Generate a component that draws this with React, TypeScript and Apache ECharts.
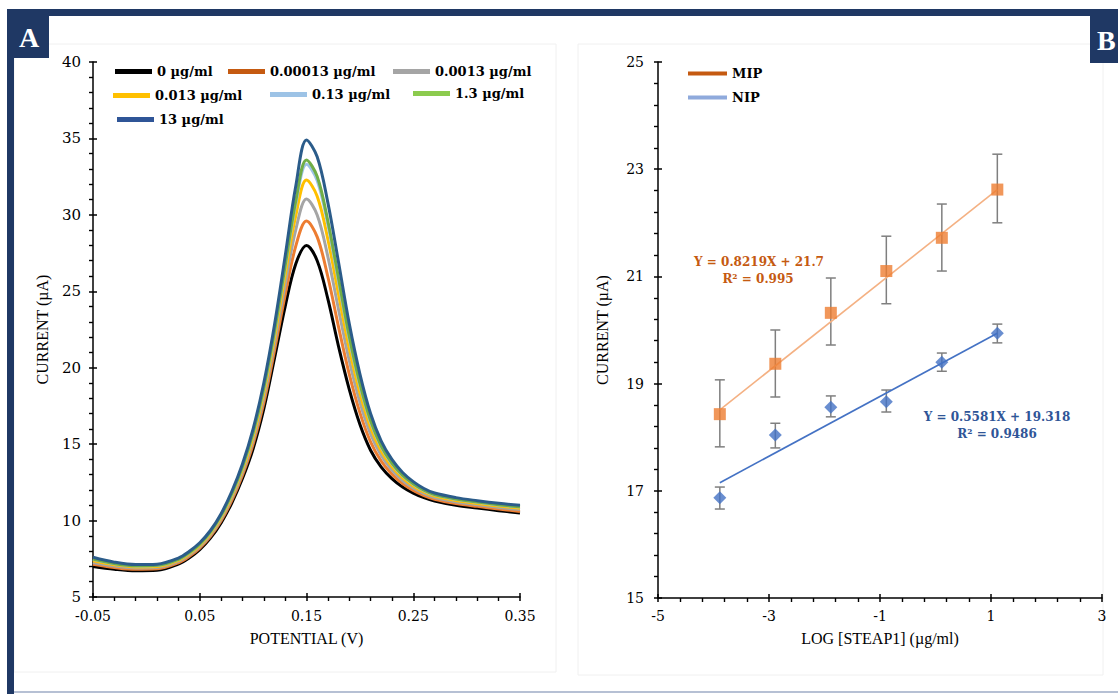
import React, { useEffect, useRef } from "react";
import * as echarts from "echarts";

// ---------- Panel A data ----------
const potentials = [-0.05, -0.03, -0.01, 0.01, 0.03, 0.04, 0.05, 0.06, 0.07, 0.08, 0.09, 0.1, 0.11, 0.12, 0.13, 0.14, 0.15, 0.16, 0.17, 0.18, 0.19, 0.2, 0.21, 0.22, 0.23, 0.24, 0.25, 0.26, 0.27, 0.29, 0.31, 0.33, 0.35];
const concNames = ["0 µg/ml", "0.00013 µg/ml", "0.0013 µg/ml", "0.013 µg/ml", "0.13 µg/ml", "1.3 µg/ml", "13 µg/ml"];
const cur0 = [7.0, 6.82, 6.72, 6.75, 7.15, 7.55, 8.1, 8.85, 9.85, 11.15, 12.75, 14.7, 17.3, 20.6, 24.0, 26.8, 28.0, 27.0, 24.5, 21.4, 18.6, 16.3, 14.6, 13.5, 12.75, 12.2, 11.8, 11.5, 11.28, 11.0, 10.82, 10.65, 10.5];
const cur1 = [7.14, 6.93, 6.81, 6.84, 7.24, 7.65, 8.2, 8.97, 9.99, 11.32, 12.97, 15.0, 17.69, 21.11, 24.76, 27.97, 29.59, 28.56, 25.95, 22.67, 19.59, 17.06, 15.15, 13.89, 13.04, 12.42, 11.97, 11.64, 11.4, 11.12, 10.93, 10.76, 10.6];
const cur2 = [7.26, 7.02, 6.9, 6.93, 7.33, 7.74, 8.3, 9.07, 10.11, 11.48, 13.17, 15.27, 18.05, 21.57, 25.45, 29.04, 31.04, 29.99, 27.27, 23.82, 20.49, 17.75, 15.66, 14.25, 13.3, 12.62, 12.13, 11.76, 11.51, 11.22, 11.03, 10.86, 10.72];
const cur3 = [7.37, 7.11, 6.97, 7.0, 7.4, 7.82, 8.38, 9.16, 10.22, 11.62, 13.34, 15.5, 18.35, 21.96, 26.05, 29.96, 32.28, 31.22, 28.41, 24.81, 21.27, 18.35, 16.09, 14.55, 13.53, 12.79, 12.27, 11.87, 11.6, 11.31, 11.12, 10.95, 10.81];
const cur4 = [7.46, 7.17, 7.03, 7.06, 7.46, 7.88, 8.45, 9.24, 10.31, 11.73, 13.48, 15.7, 18.61, 22.29, 26.54, 30.73, 33.31, 32.24, 29.35, 25.64, 21.91, 18.84, 16.45, 14.81, 13.71, 12.93, 12.38, 11.96, 11.68, 11.39, 11.19, 11.02, 10.89];
const cur5 = [7.49, 7.19, 7.04, 7.07, 7.47, 7.9, 8.46, 9.26, 10.34, 11.76, 13.52, 15.75, 18.68, 22.38, 26.67, 30.93, 33.59, 32.51, 29.6, 25.86, 22.08, 18.97, 16.54, 14.88, 13.76, 12.97, 12.41, 11.99, 11.7, 11.41, 11.21, 11.04, 10.9];
const cur6 = [7.6, 7.28, 7.12, 7.15, 7.55, 7.98, 8.55, 9.35, 10.45, 11.9, 13.7, 16.0, 19.0, 22.8, 27.3, 31.9, 34.9, 33.8, 30.8, 26.9, 22.9, 19.6, 17.0, 15.2, 14.0, 13.15, 12.55, 12.1, 11.8, 11.5, 11.3, 11.13, 11.0];
const currents = [cur0, cur1, cur2, cur3, cur4, cur5, cur6];
const lineColors = ["#000000", "#ED7D31", "#A5A5A5", "#FFC000", "#9DC3E6", "#70AD47", "#2B5C8A"];
const legendColors = ["#000000", "#C55A11", "#A5A5A5", "#FFC000", "#9DC3E6", "#8CCB4E", "#2F5597"];

// ---------- Panel B data ----------
const logConc = [-3.886, -2.886, -1.886, -0.886, 0.114, 1.114];
const mipMean = [18.43, 19.37, 20.32, 21.1, 21.72, 22.62];
const mipLow = [17.82, 18.75, 19.72, 20.49, 21.1, 22.0];
const mipHigh = [19.07, 20.0, 20.97, 21.75, 22.35, 23.28];
const nipMean = [16.87, 18.04, 18.56, 18.66, 19.4, 19.94];
const nipLow = [16.66, 17.8, 18.38, 18.47, 19.23, 19.76];
const nipHigh = [17.07, 18.26, 18.77, 18.88, 19.57, 20.11];
const mipFitX = [-3.886, 1.114];
const mipFitY = [18.51, 22.62];
const nipFitX = [-3.886, 1.114];
const nipFitY = [17.15, 19.94];

const NAVY = "#1F3864";
const SERIF = "'DejaVu Serif', 'Liberation Serif', serif";
const TIMES = "'Liberation Serif', serif";

// legend placement for panel A (icon left, icon centre y)
const legendPos = [
  [115, 73], [228, 73], [393, 73],
  [113, 97], [270, 96], [413, 95],
  [117, 121],
];

export default function App() {
  const ref = useRef<HTMLDivElement>(null);
  useEffect(() => {
    if (!ref.current) return;
    const chart = echarts.init(ref.current, null, { renderer: "svg" });

    const axisLine = { show: true, onZero: false, lineStyle: { color: "#000", width: 1.5 } };
    const axisTick = { show: true, inside: true, length: 4, lineStyle: { color: "#000", width: 1.5 } };
    const minorTick = { show: true, splitNumber: 5, length: -4, lineStyle: { color: "#000", width: 1.4 } };
    const outerTick = { show: true, inside: false, length: 4, lineStyle: { color: "#000", width: 1.5 } };

    const errRender = (params: any, api: any) => {
      const x = api.value(0);
      const lo = api.value(1);
      const hi = api.value(2);
      const pt = api.coord([x, hi]);
      const pb = api.coord([x, lo]);
      const w = 5;
      const style = { stroke: "#7F7F7F", lineWidth: 1.5 };
      return {
        type: "group",
        children: [
          { type: "line", shape: { x1: pt[0], y1: pt[1], x2: pb[0], y2: pb[1] }, style },
          { type: "line", shape: { x1: pt[0] - w, y1: pt[1], x2: pt[0] + w, y2: pt[1] }, style },
          { type: "line", shape: { x1: pb[0] - w, y1: pb[1], x2: pb[0] + w, y2: pb[1] }, style },
        ],
      };
    };

    const legendsA = concNames.map((n, i) => ({
      show: true,
      left: legendPos[i][0],
      top: legendPos[i][1] - 8,
      padding: 0,
      icon: "rect",
      itemWidth: 37,
      itemHeight: 5,
      selectedMode: false,
      textStyle: { fontFamily: SERIF, fontWeight: "bold", fontSize: 13, color: "#000" },
      data: [{ name: n, itemStyle: { color: legendColors[i] } }],
    }));

    const legendB = {
      show: true,
      left: 688,
      top: 67,
      padding: 0,
      orient: "vertical",
      itemGap: 11,
      icon: "rect",
      itemWidth: 39,
      itemHeight: 4,
      selectedMode: false,
      textStyle: { fontFamily: SERIF, fontWeight: "bold", fontSize: 13, color: "#000" },
      data: [
        { name: "MIP", itemStyle: { color: "#C55A11" }, lineStyle: { color: "#C55A11" } },
        { name: "NIP", itemStyle: { color: "#8FAADC" }, lineStyle: { color: "#8FAADC" } },
      ],
    };

    const seriesA = currents.map((c, i) => ({
      name: concNames[i],
      type: "line",
      xAxisIndex: 0,
      yAxisIndex: 0,
      smooth: 0.35,
      showSymbol: false,
      symbol: "none",
      lineStyle: { color: lineColors[i], width: 3 },
      itemStyle: { color: lineColors[i] },
      data: potentials.map((p, k) => [p, c[k]]),
      z: 2 + i,
    }));

    // tick-only twin axes (to make major ticks cross the axis line)
    const twin = (base: any) => ({
      ...base,
      name: "",
      axisLine: { show: false, onZero: false },
      axisTick: outerTick,
      minorTick: { show: false },
      axisLabel: { show: false },
      splitLine: { show: false },
    });

    const xA = {
      type: "value",
      gridIndex: 0,
      position: "bottom",
      min: -0.05,
      max: 0.35,
      interval: 0.1,
      name: "POTENTIAL (V)",
      nameLocation: "middle",
      nameGap: 33,
      nameTextStyle: { fontFamily: TIMES, fontSize: 16, color: "#000" },
      axisLine,
      axisTick,
      minorTick,
      splitLine: { show: false },
      axisLabel: {
        margin: 12,
        fontFamily: SERIF,
        fontSize: 14,
        color: "#000",
        formatter: (v: number) => v.toFixed(2),
      },
    };
    const xB = {
      type: "value",
      gridIndex: 1,
      position: "bottom",
      min: -5,
      max: 3,
      interval: 2,
      name: "LOG [STEAP1] (µg/ml)",
      nameLocation: "middle",
      nameGap: 32,
      nameTextStyle: { fontFamily: TIMES, fontSize: 16, color: "#000" },
      axisLine,
      axisTick,
      minorTick,
      splitLine: { show: false },
      axisLabel: {
        margin: 11,
        fontFamily: SERIF,
        fontSize: 14,
        color: "#000",
        formatter: (v: number) => String(Math.round(v)),
      },
    };
    const yA = {
      type: "value",
      gridIndex: 0,
      position: "left",
      min: 5,
      max: 40,
      interval: 5,
      name: "CURRENT (µA)",
      nameLocation: "middle",
      nameGap: 43,
      nameTextStyle: { fontFamily: TIMES, fontSize: 16, color: "#000" },
      axisLine,
      axisTick,
      minorTick,
      splitLine: { show: false },
      axisLabel: { margin: 12, fontFamily: SERIF, fontSize: 15, color: "#000" },
    };
    const yB = {
      type: "value",
      gridIndex: 1,
      position: "left",
      min: 15,
      max: 25,
      interval: 2,
      name: "CURRENT (µA)",
      nameLocation: "middle",
      nameGap: 48,
      nameTextStyle: { fontFamily: TIMES, fontSize: 16, color: "#000" },
      axisLine,
      axisTick,
      minorTick,
      splitLine: { show: false },
      axisLabel: {
        margin: 14,
        fontFamily: SERIF,
        fontSize: 14,
        color: "#000",
        formatter: (v: number) => String(Math.round(v)),
      },
    };

    const option: any = {
      animation: false,
      backgroundColor: "#ffffff",
      legend: [...legendsA, legendB],
      grid: [
        { left: 93, top: 62, width: 427, height: 535 },
        { left: 658, top: 62, width: 444, height: 536 },
      ],
      xAxis: [xA, xB, twin(xA), twin(xB)],
      yAxis: [yA, yB, twin(yA), twin(yB)],
      series: [
        ...seriesA,
        {
          name: "MIP error",
          type: "custom",
          xAxisIndex: 1,
          yAxisIndex: 1,
          renderItem: errRender,
          encode: { x: 0, y: [1, 2] },
          data: logConc.map((x, i) => [x, mipLow[i], mipHigh[i]]),
          z: 3,
        },
        {
          name: "NIP error",
          type: "custom",
          xAxisIndex: 1,
          yAxisIndex: 1,
          renderItem: errRender,
          encode: { x: 0, y: [1, 2] },
          data: logConc.map((x, i) => [x, nipLow[i], nipHigh[i]]),
          z: 3,
        },
        {
          name: "MIP",
          type: "line",
          xAxisIndex: 1,
          yAxisIndex: 1,
          symbol: "none",
          lineStyle: { color: "#F4B183", width: 1.6 },
          itemStyle: { color: "#C55A11" },
          data: mipFitX.map((x, i) => [x, mipFitY[i]]),
          z: 4,
        },
        {
          name: "NIP",
          type: "line",
          xAxisIndex: 1,
          yAxisIndex: 1,
          symbol: "none",
          lineStyle: { color: "#4472C4", width: 1.6 },
          itemStyle: { color: "#8FAADC" },
          data: nipFitX.map((x, i) => [x, nipFitY[i]]),
          z: 4,
        },
        {
          name: "MIP points",
          type: "scatter",
          xAxisIndex: 1,
          yAxisIndex: 1,
          symbol: "rect",
          symbolSize: 12,
          itemStyle: { color: "#ED7D31" },
          data: logConc.map((x, i) => [x, mipMean[i]]),
          z: 5,
        },
        {
          name: "NIP points",
          type: "scatter",
          xAxisIndex: 1,
          yAxisIndex: 1,
          symbol: "diamond",
          symbolSize: 13,
          itemStyle: { color: "#4472C4" },
          data: logConc.map((x, i) => [x, nipMean[i]]),
          z: 5,
        },
      ],
      graphic: [
        // faint panel boxes
        { type: "rect", shape: { x: 14, y: 44, width: 542, height: 628 }, style: { fill: "none", stroke: "#f0f0f0", lineWidth: 1 }, z: -10 },
        { type: "rect", shape: { x: 578, y: 44, width: 525, height: 631 }, style: { fill: "none", stroke: "#f0f0f0", lineWidth: 1 }, z: -10 },
        // frame
        { type: "rect", shape: { x: 7, y: 9, width: 1111, height: 7 }, style: { fill: NAVY } },
        { type: "rect", shape: { x: 7, y: 9, width: 7, height: 685 }, style: { fill: NAVY } },
        { type: "rect", shape: { x: 14, y: 691, width: 1104, height: 2 }, style: { fill: "#b6c0d4" } },
        { type: "rect", shape: { x: 7, y: 9, width: 42, height: 49 }, style: { fill: NAVY } },
        { type: "rect", shape: { x: 1090, y: 9, width: 28, height: 54 }, style: { fill: NAVY } },
        {
          type: "text",
          x: 29,
          y: 37,
          style: { text: "A", fill: "#fff", font: "bold 28px 'Liberation Serif', serif", textAlign: "center", textVerticalAlign: "middle" },
        },
        {
          type: "text",
          x: 1097,
          y: 40,
          style: { text: "B", fill: "#fff", font: "bold 28px 'Liberation Serif', serif", textAlign: "left", textVerticalAlign: "middle" },
        },
        // equations
        {
          type: "text",
          x: 759,
          y: 262,
          style: { text: "Y = 0.8219X + 21.7", fill: "#C55A11", font: "bold 12px 'DejaVu Serif', serif", textAlign: "center", textVerticalAlign: "middle" },
        },
        {
          type: "text",
          x: 758,
          y: 279,
          style: { text: "R² = 0.995", fill: "#C55A11", font: "bold 12px 'DejaVu Serif', serif", textAlign: "center", textVerticalAlign: "middle" },
        },
        {
          type: "text",
          x: 997,
          y: 417,
          style: { text: "Y = 0.5581X + 19.318", fill: "#2F5597", font: "bold 12px 'DejaVu Serif', serif", textAlign: "center", textVerticalAlign: "middle" },
        },
        {
          type: "text",
          x: 997,
          y: 434,
          style: { text: "R² = 0.9486", fill: "#2F5597", font: "bold 12px 'DejaVu Serif', serif", textAlign: "center", textVerticalAlign: "middle" },
        },
      ],
    };

    chart.setOption(option);
    return () => chart.dispose();
  }, []);

  return (
    <div
      ref={ref}
      style={{ position: "fixed", left: 0, top: 0, width: 1118, height: 694, background: "#fff" }}
    />
  );
}
